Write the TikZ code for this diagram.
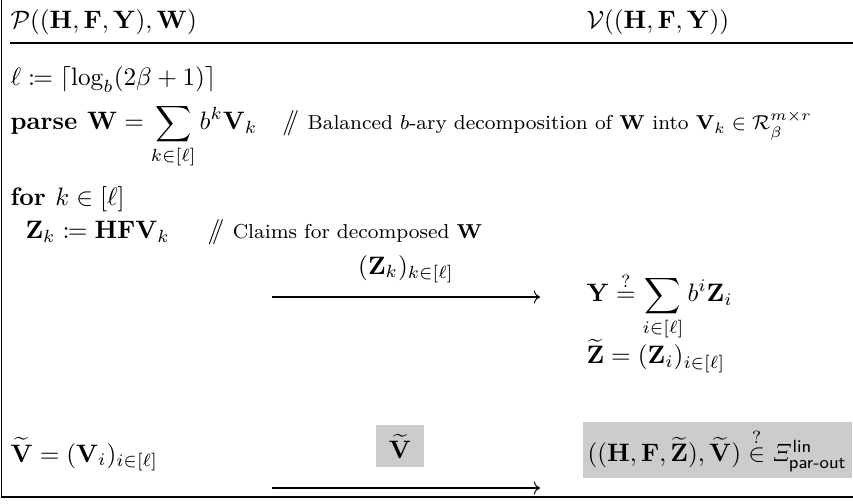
\documentclass[tikz,border=0pt]{standalone}
\usepackage{amsmath,amssymb,mathtools}
\usetikzlibrary{arrows.meta, positioning}

\newcommand{\pcmt}[1]{\quad$/\!\!/$\ {\footnotesize #1}}

\begin{document}
\begin{tikzpicture}[
    x=0.01395cm, y=-0.01395cm,
    txt/.style={anchor=base west, inner sep=0pt},
    hl/.style={fill=black!20, inner xsep=2pt, inner ysep=2.5pt},
    line/.style={->}
  ]
  \useasboundingbox (0,0) rectangle (853,504);

  % ===================== frame =====================
  \draw[line width=0.5pt] (1.5,0) -- (1.5,497) -- (853,497);
  \draw[line width=0.5pt] (10,43) -- (853,43);

  % ===================== header =====================
  \node[txt] (hdrP) at (10,29) {$\mathcal{P}((\mathbf{H},\mathbf{F},\mathbf{Y}),\mathbf{W})$};
  \node[txt] (hdrV) at (586,29) {$\mathcal{V}((\mathbf{H},\mathbf{F},\mathbf{Y}))$};

  % ===================== prover steps =====================
  \node[txt] (ell) at (10,86) {$\ell \coloneqq \lceil \log_b(2\beta+1) \rceil$};
  \node[txt] (parse) at (10,130) {$\textbf{parse } \mathbf{W} = \displaystyle\sum_{k\in[\ell]} b^k \mathbf{V}_k$\pcmt{Balanced $b$-ary decomposition of $\mathbf{W}$ into $\mathbf{V}_k \in \mathcal{R}^{m\times r}_{\beta}$}};
  \node[txt] (loop) at (10,206) {$\textbf{for } k \in [\ell]$};
  \node[txt] (claim) at (25,239) {$\mathbf{Z}_k \coloneqq \mathbf{H}\mathbf{F}\mathbf{V}_k$\enskip\pcmt{Claims for decomposed $\mathbf{W}$}};
  \node[txt] (vtilde) at (10,462) {$\widetilde{\mathbf{V}} = (\mathbf{V}_i)_{i\in[\ell]}$};

  % ===================== verifier checks =====================
  \node[txt] (check) at (586,302) {$\displaystyle \mathbf{Y} \overset{?}{=} \sum_{i\in[\ell]} b^i\mathbf{Z}_i$};
  \node[txt] (ztilde) at (586,364) {$\widetilde{\mathbf{Z}} = (\mathbf{Z}_i)_{i\in[\ell]}$};
  \node[hl, anchor=west] (final) at (582,450) {$((\mathbf{H},\mathbf{F},\widetilde{\mathbf{Z}}),\widetilde{\mathbf{V}}) \overset{?}{\in} \mathit{\Xi}^{\textsf{lin}}_{\textsf{par-out}}$};

  % ===================== messages =====================
  \coordinate (zs) at (272,297);
  \coordinate (ze) at (540,297);
  \coordinate (vs) at (272,488);
  \coordinate (ve) at (540,488);

  \draw[line] (zs) -- node[above=2pt] (zlabel) {$(\mathbf{Z}_k)_{k\in[\ell]}$} (ze);
  \draw[line] (vs) -- node[hl, inner xsep=5pt, inner ysep=3.5pt, above=8pt, pos=0.478] (vlabel) {$\widetilde{\mathbf{V}}$} (ve);

\end{tikzpicture}
\end{document}
